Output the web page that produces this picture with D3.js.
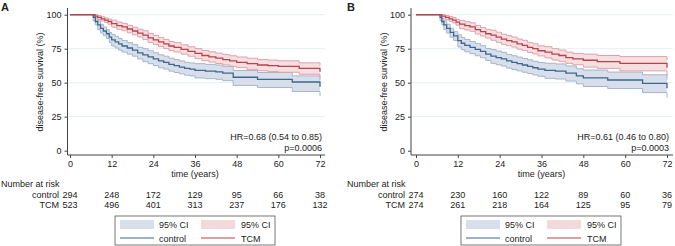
<!DOCTYPE html>
<html>
<head>
<meta charset="utf-8">
<script src="https://cdn.jsdelivr.net/npm/d3@7"></script>
<style>
  body { margin: 0; background: #fff; }
  text { font-family: "Liberation Sans", Arial, sans-serif; fill: #222; }
</style>
</head>
<body>
<div id="chart"></div>
<script>
// axis ticks
const xTicks = [0, 12, 24, 36, 48, 60, 72];
const yTicks = [0, 25, 50, 75, 100];

// Kaplan-Meier rows: [month, survival %, lower 95% CI, upper 95% CI]
const ctrlA = [
    [0,100,100,100],[6.7,98,95.5,100],[7.3,95,92.5,97],[8,92.5,89,95.5],[8.8,90,86.5,93],
    [9.6,88,84.5,91],[10.5,86,82.5,89],[11.3,83.5,79.5,87],[12,81.5,77,85.5],[13,80,75.5,84],
    [14,78.5,74,82.5],[15,77,72.5,81],[16.5,75.5,71,79.5],[18,74,69.5,78],[19.5,72,67.5,76],
    [21,70.5,65.5,75],[22.5,69,64,73.5],[24,67.5,62.5,72],[25.5,66,61,70.5],[27,65,60,69.5],
    [28.5,63.5,58.5,68],[30,62.5,57.5,67],[31.5,61.5,56.5,66],[33,60.5,55.5,65],[34.5,60,55,64.5],
    [36,59,53.5,64],[39,58.5,53,63.5],[42,58,52.5,63],[44,57,51.5,62],[47,54,48,59],
    [54,52.5,46.5,57.5],[64,50.5,43.5,55],[72,47,40,51.5]
];
const tcmA = [
    [0,100,100,100],[7.2,99,97.8,100],[8,98,96.5,99.3],[9,97,95.3,98.5],[10,96,94.2,97.6],
    [11,95,93,96.8],[12,93.5,90.8,96],[13.5,92,89.3,94.6],[15,91,88.2,93.6],[16.5,89.5,86.7,92.2],
    [18,88,85.2,90.8],[19.5,86.5,83.6,89.3],[21,85,81.7,88.2],[22.5,83,79.6,86.3],[24,81.5,78.1,84.8],
    [25.5,80,76.6,83.3],[27,78.5,75.1,81.8],[28.5,77,73.6,80.3],[30,76,72.6,79.4],[32,74.5,71,77.9],
    [34,73,69.5,76.4],[36,71.5,67.7,75.1],[38,70,66.2,73.7],[40,69,65.2,72.7],[42,68,64.1,71.7],
    [44,67,63.1,70.8],[46,66,62.1,69.8],[48,65,61.1,68.9],[51,64,59.8,68],[54,63,58.8,67],
    [57,62.5,58.2,66.6],[60,62,57.7,66.1],[66,60.5,56.2,64.6],[72,58,53.5,62.5]
];
const ctrlB = [
    [0,100,100,100],[6.9,98,95.5,100],[7.4,95,92.5,97],[8,92.5,89,95.5],[8.8,90,86.5,93],
    [9.8,87,83.5,90],[10.8,84.5,81,87.5],[12,81,76.3,85.2],[13,79,74.3,83.2],[14,77.5,72.8,81.7],
    [15.5,76,71.3,80.2],[17,74.5,69.8,78.7],[18.5,73,68.3,77.2],[20,71,66.3,75.2],[21.5,69.5,64.2,74.3],
    [23,68.5,63.2,73.3],[24.5,67.5,62.2,72.3],[26,66,60.7,70.8],[27.5,65,59.7,69.8],[29,64,58.7,68.8],
    [30.5,63,57.7,67.8],[32,62,56.7,66.8],[33.5,61,55.7,65.8],[35,60,54.7,64.8],[37,59,53.2,64.3],
    [40,58.5,52.7,63.8],[43,57,51.2,62.3],[46,55,49.2,60.3],[48,53.5,47.2,59.3],[55,52,45.7,57.8],
    [65,49.5,42.7,55.8],[72,46,39,52.3]
];
const tcmB = [
    [0,100,100,100],[7.4,99,97.4,100],[8.5,98,96.2,99.5],[9.5,97,95.1,98.7],[10.5,96,93.9,97.9],
    [11.5,94.5,92.3,96.6],[12.5,93,89.8,95.8],[14,92,88.8,94.9],[15.5,91,87.8,94],[17,89,85.8,92.1],
    [18.5,87.5,84.3,90.6],[20,86,82.8,89.2],[21.5,85,81.2,88.6],[23,83.5,79.7,87.1],[24.5,82,78.2,85.6],
    [26,81,77.2,84.6],[27.5,80,76.2,83.6],[29,78.5,74.7,82.1],[30.5,77.5,73.7,81.1],[32,76,72.2,79.6],
    [33.5,75,71.2,78.6],[35,73.5,69.7,77.1],[37,72.5,68.2,76.5],[39,71,66.7,75],[41,70,65.7,74],
    [43,68.5,64.2,72.5],[45,67.5,63.2,71.5],[48,66.5,61.5,71],[52,65.5,60.5,70],[58.5,64.2,58.7,69.2],
    [72,61,55.2,66.5]
];

// number at risk
const riskCtrlA = [294, 248, 172, 129, 95, 66, 38];
const riskTcmA = [523, 496, 401, 313, 237, 176, 132];
const riskCtrlB = [274, 230, 160, 122, 89, 60, 36];
const riskTcmB = [274, 261, 218, 164, 125, 95, 79];

const colors = {
    ctrl: '#3b6791', ctrlFill: '#d8dfea', ctrlEdge: '#a3b6cd',
    tcm: '#b8424e', tcmFill: '#f3d9dc', tcmEdge: '#e0a2aa'
};

const width = 675, height = 246;
const fs = '9px';

const svg = d3.select('#chart')
    .append('svg')
    .attr('width', width)
    .attr('height', height);

svg.append('rect').attr('width', width).attr('height', height).attr('fill', '#fff');

function drawPanel(opts) {
    const {left, x0, x1, right, letter, ctrl, tcm, riskCtrl, riskTcm, hr, p} = opts;

    const x = d3.scaleLinear().domain([0, 72]).range([x0, x1]);
    const y = d3.scaleLinear().domain([0, 100]).range([150.7, 14.7]);
    const axisY = 155;
    const g = svg.append('g');

    // gridlines
    g.selectAll('.grid')
        .data(yTicks.filter(d => d > 0))
        .enter()
        .append('line')
        .attr('x1', left).attr('x2', right)
        .attr('y1', d => y(d)).attr('y2', d => y(d))
        .attr('stroke', '#e6eff2')
        .attr('stroke-width', 1);

    const band = d3.area()
        .x(d => x(d[0])).y0(d => y(d[2])).y1(d => y(d[3]))
        .curve(d3.curveStepAfter);
    const lineS = d3.line().x(d => x(d[0])).y(d => y(d[1])).curve(d3.curveStepAfter);
    const lineLo = d3.line().x(d => x(d[0])).y(d => y(d[2])).curve(d3.curveStepAfter);
    const lineHi = d3.line().x(d => x(d[0])).y(d => y(d[3])).curve(d3.curveStepAfter);

    // CI bands
    g.append('path').attr('d', band(ctrl)).attr('fill', colors.ctrlFill);
    g.append('path').attr('d', band(tcm)).attr('fill', colors.tcmFill).attr('fill-opacity', 0.85);
    [[ctrl, colors.ctrlEdge], [tcm, colors.tcmEdge]].forEach(([data, c]) => {
        g.append('path').attr('d', lineLo(data)).attr('fill', 'none').attr('stroke', c).attr('stroke-width', 1);
        g.append('path').attr('d', lineHi(data)).attr('fill', 'none').attr('stroke', c).attr('stroke-width', 1);
    });

    // survival lines
    g.append('path').attr('d', lineS(ctrl)).attr('fill', 'none')
        .attr('stroke', colors.ctrl).attr('stroke-width', 1.3);
    g.append('path').attr('d', lineS(tcm)).attr('fill', 'none')
        .attr('stroke', colors.tcm).attr('stroke-width', 1.3);

    // Y axis
    g.append('g')
        .attr('transform', `translate(${left},0)`)
        .call(d3.axisLeft(y).tickValues(yTicks).tickSize(3).tickSizeOuter(0).tickPadding(3))
        .call(a => a.select('.domain').attr('d', `M0,8V${axisY}`).attr('stroke', '#444'))
        .call(a => a.selectAll('line').attr('stroke', '#444'))
        .call(a => a.selectAll('text').attr('font-size', fs).attr('fill', '#222')
            .attr('font-family', '"Liberation Sans", Arial, sans-serif'));

    // X axis
    g.append('g')
        .attr('transform', `translate(0,${axisY})`)
        .call(d3.axisBottom(x).tickValues(xTicks).tickSize(3).tickSizeOuter(0).tickPadding(3))
        .call(a => a.select('.domain').attr('d', `M${left},0H${right}`).attr('stroke', '#444'))
        .call(a => a.selectAll('line').attr('stroke', '#444'))
        .call(a => a.selectAll('text').attr('font-size', fs).attr('fill', '#222')
            .attr('font-family', '"Liberation Sans", Arial, sans-serif'));

    // axis titles
    g.append('text')
        .attr('transform', `translate(${left - 24.5},82) rotate(-90)`)
        .attr('text-anchor', 'middle')
        .attr('font-size', fs)
        .text('disease-free survival (%)');
    g.append('text')
        .attr('x', x(36)).attr('y', 177)
        .attr('text-anchor', 'middle')
        .attr('font-size', fs)
        .text('time (years)');

    // panel letter
    g.append('text')
        .attr('x', x0 - 69).attr('y', 10.5)
        .attr('font-size', '11px').attr('font-weight', 'bold')
        .text(letter);

    // HR annotation
    g.append('text').attr('x', x1 + 2).attr('y', 140).attr('text-anchor', 'end')
        .attr('font-size', fs).text(hr);
    g.append('text').attr('x', x1 + 2).attr('y', 150.5).attr('text-anchor', 'end')
        .attr('font-size', fs).text(p);

    // number at risk
    g.append('text').attr('x', x0 - 69).attr('y', 186.5).attr('font-size', fs).text('Number at risk');
    [['control', riskCtrl, 197.5], ['TCM', riskTcm, 208]].forEach(([name, vals, yy]) => {
        g.append('text').attr('x', x0 - 11).attr('y', yy).attr('text-anchor', 'end')
            .attr('font-size', fs).text(name);
        g.selectAll(null)
            .data(vals)
            .enter()
            .append('text')
            .attr('x', (d, i) => x(xTicks[i]))
            .attr('y', yy)
            .attr('text-anchor', 'middle')
            .attr('font-size', fs)
            .text(d => d);
    });

    // legend
    const lx = x0 + 45, ly = 216;
    const lg = g.append('g').attr('transform', `translate(${lx},${ly})`);
    lg.append('rect').attr('width', 160).attr('height', 29)
        .attr('fill', '#fff').attr('stroke', '#555').attr('stroke-width', 0.8);
    lg.append('rect').attr('x', 5).attr('y', 4).attr('width', 34).attr('height', 9).attr('fill', colors.ctrlFill);
    lg.append('rect').attr('x', 86).attr('y', 4).attr('width', 34).attr('height', 9).attr('fill', colors.tcmFill);
    lg.append('line').attr('x1', 5).attr('x2', 39).attr('y1', 22).attr('y2', 22)
        .attr('stroke', colors.ctrl).attr('stroke-width', 1.2);
    lg.append('line').attr('x1', 86).attr('x2', 120).attr('y1', 22).attr('y2', 22)
        .attr('stroke', colors.tcm).attr('stroke-width', 1.2);
    lg.append('text').attr('x', 44).attr('y', 12).attr('font-size', fs).text('95% CI');
    lg.append('text').attr('x', 126).attr('y', 12).attr('font-size', fs).text('95% CI');
    lg.append('text').attr('x', 44).attr('y', 25.5).attr('font-size', fs).text('control');
    lg.append('text').attr('x', 126).attr('y', 25.5).attr('font-size', fs).text('TCM');
}

drawPanel({
    left: 67.5, x0: 70, x1: 320, right: 325, letter: 'A',
    ctrl: ctrlA, tcm: tcmA, riskCtrl: riskCtrlA, riskTcm: riskTcmA,
    hr: 'HR=0.68 (0.54 to 0.85)', p: 'p=0.0006'
});
drawPanel({
    left: 411, x0: 416, x1: 667, right: 673, letter: 'B',
    ctrl: ctrlB, tcm: tcmB, riskCtrl: riskCtrlB, riskTcm: riskTcmB,
    hr: 'HR=0.61 (0.46 to 0.80)', p: 'p=0.0003'
});
</script>
</body>
</html>
